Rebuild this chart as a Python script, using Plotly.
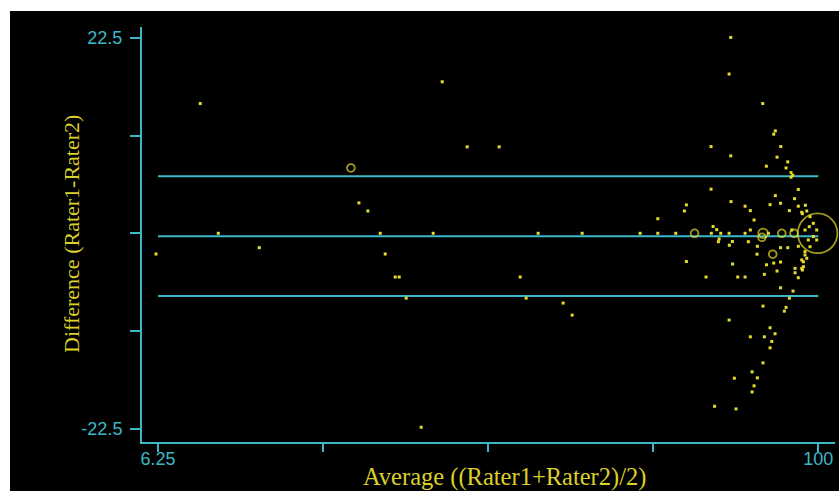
import plotly.graph_objects as go

# ---- data ----
avg_vals = [
    5.97, 12.25, 14.81, 20.63, 33.64, 34.78, 36.05, 37.80, 38.51, 39.93, 40.50, 41.49,
    43.62, 45.32, 46.60, 50.15, 54.69, 57.67, 58.52, 60.22, 63.77, 65.05, 66.47,
    74.70, 77.21, 77.21, 79.76, 82.43, 81.27, 80.99, 81.27, 84.06, 84.77, 84.77, 84.81,
    85.06, 85.27, 85.58, 86.15, 85.91, 85.81, 87.33, 87.57, 87.33, 87.57, 87.61, 87.37,
    87.80, 87.83, 87.33, 88.08, 88.32, 88.56, 89.60, 89.60, 89.60, 90.35, 90.35, 90.07,
    90.35, 90.88, 90.60, 90.88, 90.60, 91.35, 91.30, 91.35, 92.15, 92.11, 92.15, 92.15,
    92.34, 92.34, 92.62, 92.65, 92.91, 93.15, 93.15, 93.15, 93.39, 93.53, 93.67, 93.90,
    93.67, 93.90, 93.86, 94.14, 94.14, 94.67, 94.64, 94.81, 94.64, 94.64, 94.64, 95.18,
    95.42, 95.42, 95.66, 95.66, 95.89, 95.89, 96.13, 96.37, 96.13, 96.23, 96.55, 96.41,
    96.63, 96.70, 96.70, 97.16, 97.16, 97.16, 97.16, 97.65, 97.65, 97.65, 98.16, 98.11,
    97.88, 98.36, 98.11, 98.36, 97.74, 98.82, 99.29, 98.72, 99.77, 99.29, 98.58, 99.77,
    98.82, 98.11, 97.74, 97.88, 92.00, 99.90,
]
diff_vals = [
    -2.39, 14.95, 0.00, -1.66, 7.53, 3.50, 2.57, 0.00, -2.39, -5.04, -5.04, -7.47,
    -22.35, 0.00, 17.46, 9.96, 9.96, -5.04, -7.47, 0.00, -8.04, -9.43, 0.00,
    0.00, 0.00, 1.68, 0.00, 0.00, 3.27, 2.57, -3.25, -5.04, 9.99, 5.08, 0.00,
    0.78, -19.93, 0.42, 0.00, -0.66, -0.97, 0.00, 22.57, 18.35, 8.92, 3.65, -1.38,
    -0.95, -3.54, -10.00, -16.70, -20.24, -5.04, 3.12, 0.00, -5.04, 2.61, 0.38, -0.97,
    -11.93, 1.53, -15.97, -17.58, -18.28, -1.50, -2.41, -16.66, 0.00, 14.95, -8.39, -14.93,
    -4.73, -11.93, 7.73, -3.63, 0.00, 3.30, -10.89, -13.20, -12.46, -2.41, 11.42, 11.80,
    -3.43, 4.34, -11.58, 8.77, -4.35, 9.99, 3.46, 0.00, -1.66, -3.31, -6.28, -8.97,
    -8.54, 7.53, 8.23, -1.66, 2.61, -7.47, 6.99, 6.69, 6.46, 0.38, 0.00, -6.66,
    3.99, -4.04, -4.55, 5.05, 3.12, -1.50, -5.12, 2.42, -3.08, -4.04, 3.23, 0.38,
    -3.28, -2.88, -2.50, 2.57, 2.26, 1.92, 1.15, 0.76, 0.38, -0.39, -0.77, -0.77,
    -1.55, -2.12, -4.23, -3.85, -0.46, 0.00,
]
counts = [
    1, 1, 1, 1, 2, 1, 1, 1, 1, 1, 1, 1,
    1, 1, 1, 1, 1, 1, 1, 1, 1, 1, 1,
    1, 1, 1, 1, 2, 1, 1, 1, 1, 1, 1, 1,
    1, 1, 1, 1, 1, 1, 1, 1, 1, 1, 1, 1,
    1, 1, 1, 1, 1, 1, 1, 1, 1, 1, 1, 1,
    1, 1, 1, 1, 1, 1, 1, 1, 3, 1, 1, 1,
    1, 1, 1, 1, 1, 1, 1, 1, 1, 2, 1, 1,
    1, 1, 1, 1, 1, 1, 1, 2, 1, 1, 1, 1,
    1, 1, 1, 1, 1, 1, 1, 1, 1, 1, 2, 1,
    1, 1, 1, 1, 1, 1, 1, 1, 1, 1, 1, 1,
    1, 1, 1, 1, 1, 1, 1, 1, 1, 1, 1, 1,
    1, 1, 1, 1, 2, 52,
]

mean_diff = -0.33
upper_loa = 6.57
lower_loa = -7.23
line_x = [6.25, 100]

x_tickvals = [6.25, 29.6875, 53.125, 76.5625, 100]
x_ticktext = ["6.25", "", "", "", "100"]
y_tickvals = [-22.5, -11.25, 0, 11.25, 22.5]
y_ticktext = ["-22.5", "", "", "", "22.5"]

# ---- styling ----
CYAN = "#3DB7C6"
YELLOW = "#E6DC2C"
TITLE_YELLOW = "#DCD02A"

fig = go.Figure()

for yv in [upper_loa, mean_diff, lower_loa]:
    fig.add_trace(go.Scatter(x=line_x, y=[yv, yv], mode="lines",
                             line=dict(color=CYAN, width=2), hoverinfo="skip",
                             showlegend=False))

sx = [a for a, n in zip(avg_vals, counts) if n == 1]
sy = [d for d, n in zip(diff_vals, counts) if n == 1]
mx = [a for a, n in zip(avg_vals, counts) if n > 1]
my = [d for d, n in zip(diff_vals, counts) if n > 1]
ms = [5.5 * (n ** 0.5) for n in counts if n > 1]

fig.add_trace(go.Scatter(x=sx, y=sy, mode="markers", showlegend=False, cliponaxis=False,
                         marker=dict(symbol="square", size=3, color=YELLOW,
                                     line=dict(width=0))))
fig.add_trace(go.Scatter(x=mx, y=my, mode="markers", showlegend=False, cliponaxis=False,
                         marker=dict(symbol="circle-open", size=ms, color=YELLOW,
                                     line=dict(width=1.8, color=YELLOW))))

L, R, T, B = 142, 4, 27, 49
W, H = 839, 491
pw, ph = W - L - R, H - T - B

def px2paper_x(px):
    return (px - L) / pw

def px2paper_y(py):
    return (H - B - py) / ph

fig.update_layout(
    width=W, height=H,
    margin=dict(l=L, r=R, t=T, b=B, pad=0),
    paper_bgcolor="black", plot_bgcolor="black",
    xaxis=dict(range=[3.98, 102.37], showgrid=False, zeroline=False,
               showline=True, linecolor=CYAN, linewidth=2,
               ticks="outside", ticklen=8, tickwidth=2, tickcolor=CYAN,
               tickvals=x_tickvals, ticktext=x_ticktext, ticklabelstandoff=-9,
               tickfont=dict(family="Liberation Sans, Arial", size=18, color=CYAN)),
    yaxis=dict(range=[-24.05, 23.77], showgrid=False, zeroline=False,
               showline=True, linecolor=CYAN, linewidth=2,
               ticks="outside", ticklen=10, tickwidth=2, tickcolor=CYAN,
               tickvals=y_tickvals, ticktext=y_ticktext, ticklabelstandoff=4,
               tickfont=dict(family="Liberation Sans, Arial", size=18, color=CYAN)),
    annotations=[
        dict(text="Average ((Rater1+Rater2)/2)", xref="paper", yref="paper",
             x=px2paper_x(504.5), y=px2paper_y(477), xanchor="center", yanchor="middle",
             showarrow=False,
             font=dict(family="Liberation Serif, Times New Roman", size=24.5, color=TITLE_YELLOW)),
        dict(text="Difference (Rater1-Rater2)", xref="paper", yref="paper",
             x=px2paper_x(72), y=px2paper_y(234), xanchor="center", yanchor="middle",
             textangle=-90, showarrow=False,
             font=dict(family="Liberation Serif, Times New Roman", size=22, color=TITLE_YELLOW)),
    ],
    shapes=[
        dict(type="rect", xref="paper", yref="paper", layer="above",
             x0=px2paper_x(-5), x1=px2paper_x(W + 5), y0=px2paper_y(11), y1=px2paper_y(-5),
             fillcolor="white", line=dict(width=0)),
        dict(type="rect", xref="paper", yref="paper", layer="above",
             x0=px2paper_x(-5), x1=px2paper_x(10), y0=px2paper_y(H + 5), y1=px2paper_y(-5),
             fillcolor="white", line=dict(width=0)),
    ],
)

fig.write_html("out.html", config={"displayModeBar": False},
               post_script="document.body.style.margin='0';document.body.style.overflow='hidden';")
